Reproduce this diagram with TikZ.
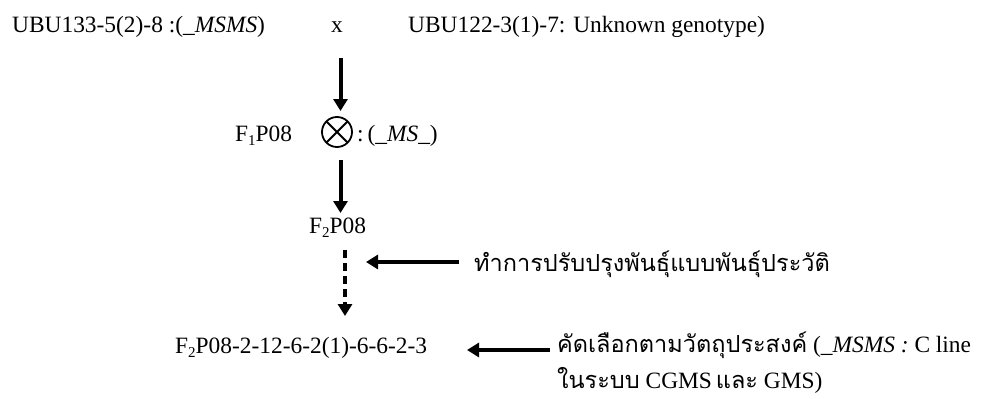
\documentclass[tikz,border=0pt]{standalone}
\usepackage{fontspec}
\setmainfont{Liberation Serif}
\newfontfamily\thaifont[Script=Thai]{Loma}
\usetikzlibrary{arrows.meta}
\newcommand{\sbs}[1]{\raisebox{-4.5pt}{\fontsize{15}{15}\selectfont #1}}
\newcommand{\thtxt}[1]{{\thaifont\fontsize{23.5}{28}\selectfont #1}}
\begin{document}
\begin{tikzpicture}[x=1pt,y=-1pt,
  txt/.style={inner sep=0pt, font=\fontsize{23.4}{28}\selectfont, anchor=base west},
  arr/.style={line width=4pt, -{Triangle[length=12pt 0,width=14pt 0]}},
  darr/.style={arr, dash pattern=on 8pt off 5pt}]
\useasboundingbox (0,0) rectangle (986,399);
\node[txt] (p1) at (12,32) {UBU133-5(2)-8 :(\_\textit{MSMS})};
\node[txt] (cx) at (331,32) {x};
\node[txt] (p2) at (408,32) {UBU122-3(1)-7: Unknown genotype)};
\node[txt] (f1) at (235,141) {F\sbs{1}P08};
\node[circle, draw, line width=1.8pt, minimum size=30pt, inner sep=0pt,
  path picture={\draw[line width=1.8pt] (path picture bounding box.north west) -- (path picture bounding box.south east)
   (path picture bounding box.north east) -- (path picture bounding box.south west);}] (self) at (337,132) {};
\node[txt] (ms) at (357,141) {:\,(\_\textit{MS}\_)};
\node[txt] (f2) at (309,233) {F\sbs{2}P08};
\node[txt] (fin) at (175,353) {F\sbs{2}P08-2-12-6-2(1)-6-6-2-3};
\node[txt] (n1) at (474,271) {\thtxt{ทำการปรับปรุงพันธุ์แบบพันธุ์ประวัติ}};
\node[txt] (n2) at (557,352) {\thtxt{คัดเลือกตามวัตถุประสงค์} (\_\textit{MSMS :} C line};
\node[txt] (n3) at (557,388) {\thtxt{ในระบบ} CGMS\,\thtxt{และ} GMS)};
\coordinate (a1s) at (340.5,58);
\coordinate (a1e) at (340.5,111);
\coordinate (a2s) at (340.5,160);
\coordinate (a2e) at (340.5,213);
\coordinate (a3s) at (345,250);
\coordinate (a3e) at (345,316);
\coordinate (h1s) at (459,262);
\coordinate (h1e) at (366,262);
\coordinate (h2s) at (550,350);
\coordinate (h2e) at (467,350);
\draw[arr] (a1s) -- (a1e);
\draw[arr] (a2s) -- (a2e);
\draw[darr] (a3s) -- (a3e);
\draw[arr] (h1s) -- (h1e);
\draw[arr] (h2s) -- (h2e);
\end{tikzpicture}
\end{document}
